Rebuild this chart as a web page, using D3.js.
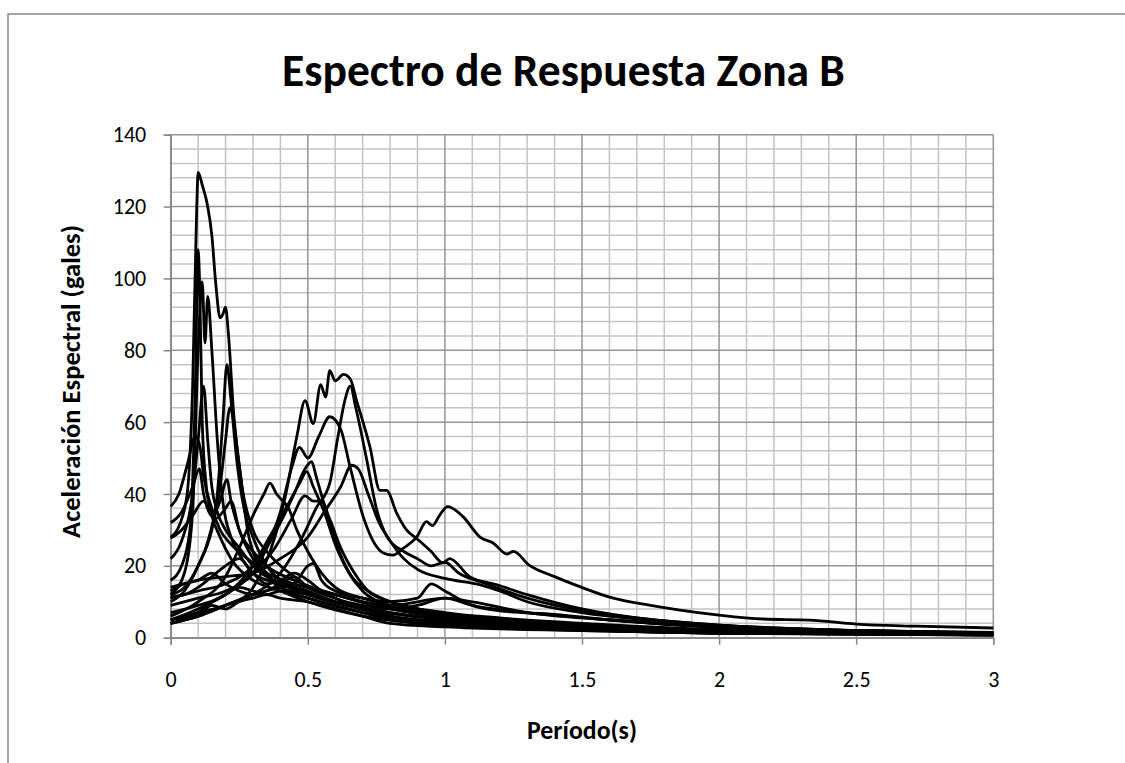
<!DOCTYPE html>
<html>
<head>
<meta charset="utf-8">
<script src="https://cdn.jsdelivr.net/npm/d3@7"></script>
<style>
  html, body { margin: 0; padding: 0; background: #fff; }
  svg { display: block; }
  text { font-family: Calibri, Carlito, Lato, "Open Sans", sans-serif; fill: #000; }
</style>
</head>
<body>
<svg id="chart" width="1125" height="763"></svg>
<script>
// Response spectra, Zone B: period (s) vs spectral acceleration (gales), one array per record
const rec01 = [[0,28],[0.03,31],[0.06,40],[0.08,70],[0.095,120],[0.1,129.5],[0.115,126],[0.135,120],[0.15,112],[0.165,98],[0.18,89],[0.19,90],[0.2,92],[0.21,85],[0.23,62],[0.26,42],[0.3,30],[0.35,24],[0.4,20],[0.45,17],[0.5,14],[0.6,11],[0.7,8],[0.8,6],[1.0,4.5],[1.2,3.5],[1.5,2.5],[2,1.8],[2.5,1.3],[3,1.0]];
const rec02 = [[0,16],[0.04,20],[0.07,30],[0.09,70],[0.1,108],[0.105,100],[0.115,60],[0.13,42],[0.15,34],[0.18,28],[0.22,22],[0.3,16],[0.4,13],[0.5,10],[0.7,6],[1,3.5],[1.5,2],[2,1.2],[3,0.7]];
const rec03 = [[0,12],[0.05,18],[0.08,35],[0.1,80],[0.115,99],[0.125,82],[0.135,95],[0.15,80],[0.17,55],[0.19,38],[0.22,28],[0.26,22],[0.3,18],[0.35,16],[0.45,14],[0.6,10],[0.8,6],[1,4],[1.5,2.2],[2,1.3],[3,0.8]];
const rec04 = [[0,12],[0.05,14],[0.1,20],[0.14,28],[0.17,40],[0.19,60],[0.205,76],[0.22,66],[0.24,50],[0.27,35],[0.3,28],[0.35,20],[0.4,16],[0.5,13],[0.6,10],[0.8,7],[1,5],[1.5,2.5],[2,1.5],[3,0.9]];
const rec05 = [[0,22],[0.04,27],[0.08,40],[0.1,55],[0.12,70],[0.135,55],[0.15,42],[0.17,35],[0.2,30],[0.25,25],[0.3,20],[0.4,15],[0.5,12],[0.7,8],[1,5],[1.5,2.8],[2,1.6],[3,1]];
const rec06 = [[0,10],[0.05,13],[0.1,20],[0.15,30],[0.18,42],[0.2,55],[0.216,64],[0.23,60],[0.242,53],[0.26,42],[0.28,30],[0.3,24],[0.35,18],[0.4,14],[0.5,11],[0.7,7],[1,4],[1.5,2.2],[2,1.3],[3,0.8]];
const rec07 = [[0,36.5],[0.03,40],[0.06,48],[0.09,56],[0.107,53],[0.12,45],[0.15,36],[0.18,30],[0.22,26],[0.28,22],[0.35,18],[0.45,15],[0.55,13],[0.7,10],[1,6],[1.5,3.5],[2,2],[3,1.2]];
const rec08 = [[0,32],[0.04,35],[0.08,42],[0.104,47],[0.12,40],[0.15,34],[0.18,38],[0.205,44],[0.22,38],[0.25,30],[0.3,24],[0.35,20],[0.45,16],[0.6,12],[0.8,8],[1,5.5],[1.5,3],[2,1.8],[3,1.1]];
const rec09 = [[0,5],[0.1,7],[0.2,9],[0.28,12],[0.33,18],[0.38,28],[0.42,40],[0.46,56],[0.49,66],[0.52,59.6],[0.547,70.4],[0.565,67],[0.58,74.3],[0.6,71.5],[0.63,73.3],[0.655,72],[0.678,66],[0.727,53],[0.763,41],[0.787,41],[0.824,34.7],[0.86,30],[0.897,27.6],[0.95,24],[0.993,20.8],[1.017,22],[1.09,17],[1.19,14.7],[1.3,12],[1.5,8],[1.7,5.5],[2,3.5],[2.5,2],[3,1.3]];
const rec10 = [[0,9],[0.1,11],[0.2,13],[0.3,18],[0.35,25],[0.4,35],[0.44,47],[0.47,53],[0.5,50],[0.54,56],[0.58,61.5],[0.62,58],[0.654,47.6],[0.702,33.7],[0.745,26],[0.775,23.6],[0.81,23],[0.85,25],[0.897,28],[0.933,32.3],[0.955,31.2],[0.98,34],[1.01,36.5],[1.066,33.7],[1.128,28],[1.177,26.3],[1.226,23.3],[1.25,24],[1.306,20.3],[1.4,17],[1.492,14.2],[1.614,11],[1.75,9],[1.857,7.7],[2.0,6.3],[2.16,5.2],[2.33,4.9],[2.5,3.8],[2.72,3.2],[3.0,2.7]];
const rec11 = [[0,4],[0.1,6],[0.2,9],[0.3,12],[0.4,18],[0.48,28],[0.53,36],[0.58,43],[0.61,56],[0.635,66],[0.655,70],[0.675,64],[0.715,49.5],[0.75,36],[0.79,28],[0.85,24],[0.9,22],[0.95,20],[1.0,21],[1.05,18],[1.15,15],[1.3,11],[1.5,7.5],[1.7,5.5],[2,3.5],[2.5,2],[3,1.2]];
const rec12 = [[0,14],[0.1,16],[0.2,17],[0.3,18],[0.4,22],[0.5,28],[0.56,35],[0.62,42],[0.66,48],[0.684,47],[0.72,40],[0.76,32],[0.8,27],[0.85,22],[0.9,19],[1.0,16.5],[1.13,14.7],[1.2,13],[1.3,10],[1.5,7],[1.8,4.5],[2,3.3],[2.5,2],[3,1.3]];
const rec13 = [[0,11],[0.1,13],[0.2,15],[0.3,20],[0.35,25],[0.4,32],[0.45,40],[0.49,47],[0.514,49],[0.53,45],[0.547,40.5],[0.58,32],[0.62,23],[0.66,17],[0.72,13],[0.8,10],[0.9,8],[1,6.5],[1.2,5],[1.5,3.5],[2,2],[3,1]];
const rec14 = [[0,7],[0.1,9],[0.2,12],[0.3,20],[0.36,28],[0.42,36],[0.47,43],[0.496,46.2],[0.52,42],[0.56,35],[0.6,26],[0.65,18],[0.7,13],[0.8,9],[1,6],[1.2,4.5],[1.5,3],[2,1.8],[3,1]];
const rec15 = [[0,6],[0.1,10],[0.2,17],[0.25,25],[0.3,34],[0.34,40],[0.362,43],[0.386,40],[0.41,38],[0.43,36],[0.46,30],[0.5,24],[0.55,18],[0.6,14],[0.7,11],[0.8,9],[1,6],[1.5,3],[2,1.8],[3,1]];
const rec16 = [[0,5],[0.1,8],[0.2,12],[0.3,18],[0.38,25],[0.44,33],[0.49,39.5],[0.52,38],[0.55,38],[0.58,33],[0.62,25],[0.67,18],[0.72,13],[0.8,10],[1,7],[1.2,5.5],[1.5,4],[2,2.3],[3,1.3]];
const rec17 = [[0,4],[0.1,6],[0.2,9],[0.3,12],[0.4,14],[0.45,15],[0.5,20],[0.52,20.7],[0.55,16],[0.6,13],[0.7,11],[0.8,10],[0.9,11],[0.95,15],[1.0,13],[1.1,9],[1.2,7.5],[1.4,6.5],[1.6,5],[2,2.8],[2.5,1.6],[3,1]];
const rec18 = [[0,13],[0.05,15],[0.1,16],[0.15,18],[0.2,15],[0.25,13],[0.3,12],[0.4,15],[0.45,17],[0.5,14],[0.6,12],[0.7,10],[0.8,9],[1.0,11],[1.1,9],[1.3,7],[1.6,5],[2,3],[3,1.2]];
const rec19 = [[0,4],[0.05,5],[0.1,6],[0.15,9],[0.2,8],[0.25,10],[0.3,11],[0.35,12],[0.4,11],[0.5,10],[0.6,8],[0.7,6],[0.8,4],[1,3],[1.5,2],[2,1.3],[3,0.8]];
const rec20 = [[0,5],[0.05,5.5],[0.1,7],[0.15,10],[0.2,12],[0.25,14],[0.3,13],[0.35,12],[0.4,13],[0.5,11],[0.6,9],[0.7,7],[0.8,5],[0.9,4],[1,3.5],[1.5,2.2],[2,1.3],[3,0.7]];
const rec21 = [[0,11.4],[0.05,12],[0.1,14],[0.15,17],[0.2,20],[0.25,22],[0.3,18],[0.35,15],[0.4,16],[0.45,18],[0.5,16],[0.55,13],[0.6,11],[0.7,9],[0.8,8],[0.9,9],[1,11],[1.1,10],[1.3,7],[1.5,5.5],[2,3],[3,1.5]];
const rec22 = [[0,27.7],[0.04,30],[0.08,34],[0.12,38],[0.16,33],[0.2,36],[0.22,38],[0.25,30],[0.3,22],[0.35,17],[0.4,14],[0.5,12],[0.6,10],[0.8,7],[1,5],[1.5,3],[2,1.8],[3,1]];

const records = [rec01, rec02, rec03, rec04, rec05, rec06, rec07, rec08, rec09, rec10, rec11,
                 rec12, rec13, rec14, rec15, rec16, rec17, rec18, rec19, rec20, rec21, rec22];

const xTicks = [0, 0.5, 1, 1.5, 2, 2.5, 3];
const xTickLabels = ["0", "0.5", "1", "1.5", "2", "2.5", "3"];
const yTicks = [0, 20, 40, 60, 80, 100, 120, 140];

const titleText = "Espectro de Respuesta Zona B";
const xTitle = "Período(s)";
const yTitle = "Aceleración Espectral (gales)";

const svg = d3.select("#chart");

// chart frame
svg.append("rect")
  .attr("x", 8).attr("y", 14)
  .attr("width", 1200).attr("height", 800)
  .attr("fill", "none").attr("stroke", "#878787").attr("stroke-width", 1.5);

const plot = { left: 170.7, right: 993.3, top: 134.7, bottom: 637.7 };

const x = d3.scaleLinear().domain([0, 3]).range([plot.left, plot.right]);
const y = d3.scaleLinear().domain([0, 140]).range([plot.bottom, plot.top]);

// minor grid
const grid = svg.append("g");
const minorX = d3.range(0, 31).map(i => i / 10).filter(v => Math.round(v * 10) % 5 !== 0);
const minorY = d3.range(0, 36).map(i => i * 4).filter(v => v % 20 !== 0);
grid.selectAll(".mx").data(minorX).join("line")
  .attr("x1", d => x(d)).attr("x2", d => x(d))
  .attr("y1", plot.top).attr("y2", plot.bottom)
  .attr("stroke", "#c4c4c4").attr("stroke-width", 1.5);
grid.selectAll(".my").data(minorY).join("line")
  .attr("x1", plot.left).attr("x2", plot.right)
  .attr("y1", d => y(d)).attr("y2", d => y(d))
  .attr("stroke", "#c4c4c4").attr("stroke-width", 1.5);
// major grid
grid.selectAll(".Mx").data(xTicks).join("line")
  .attr("x1", d => x(d)).attr("x2", d => x(d))
  .attr("y1", plot.top).attr("y2", plot.bottom)
  .attr("stroke", "#959595").attr("stroke-width", 1.5);
grid.selectAll(".My").data(yTicks).join("line")
  .attr("x1", plot.left).attr("x2", plot.right)
  .attr("y1", d => y(d)).attr("y2", d => y(d))
  .attr("stroke", "#959595").attr("stroke-width", 1.5);

// axes
const yAxis = svg.append("g")
  .attr("transform", `translate(${plot.left},0)`)
  .call(d3.axisLeft(y).tickValues(yTicks).tickSize(7).tickPadding(17.5).tickFormat(d3.format("d")));
const xAxis = svg.append("g")
  .attr("transform", `translate(0,${plot.bottom})`)
  .call(d3.axisBottom(x).tickValues(xTicks).tickSize(7).tickPadding(27)
    .tickFormat((d, i) => xTickLabels[i]));
[yAxis, xAxis].forEach(g => {
  g.attr("font-size", null).attr("font-family", null);
  g.select(".domain").attr("stroke", "#878787").attr("stroke-width", 1.5);
  g.selectAll(".tick line").attr("stroke", "#878787").attr("stroke-width", 1.5);
  g.selectAll("text")
    .attr("fill", "#000")
    .style("font-size", "22px")
    .style("font-family", "Calibri, Carlito, Lato, sans-serif");
});
xAxis.selectAll("text").attr("dy", "0.71em");

// spectra
const line = d3.line()
  .x(d => x(d[0]))
  .y(d => y(d[1]))
  .curve(d3.curveMonotoneX);
svg.append("g").selectAll("path").data(records).join("path")
  .attr("d", line)
  .attr("fill", "none")
  .attr("stroke", "#000")
  .attr("stroke-width", 2.8)
  .attr("stroke-linejoin", "round");

// titles, sized to their text extents
function fitText(sel, width) {
  const w = sel.node().getComputedTextLength();
  const fs = parseFloat(sel.attr("font-size"));
  sel.attr("font-size", fs * width / w);
}
const t = svg.append("text")
  .attr("x", 563.5).attr("y", 86)
  .attr("text-anchor", "middle")
  .attr("font-weight", "bold").attr("font-size", 32)
  .text(titleText);
fitText(t, 563);

const xt = svg.append("text")
  .attr("x", (plot.left + plot.right) / 2).attr("y", 739)
  .attr("text-anchor", "middle")
  .attr("font-weight", "bold").attr("font-size", 18)
  .text(xTitle);
fitText(xt, 110);

const yt = svg.append("text")
  .attr("transform", `translate(80,381.5) rotate(-90)`)
  .attr("text-anchor", "middle")
  .attr("font-weight", "bold").attr("font-size", 18)
  .text(yTitle);
fitText(yt, 313);
</script>
</body>
</html>
